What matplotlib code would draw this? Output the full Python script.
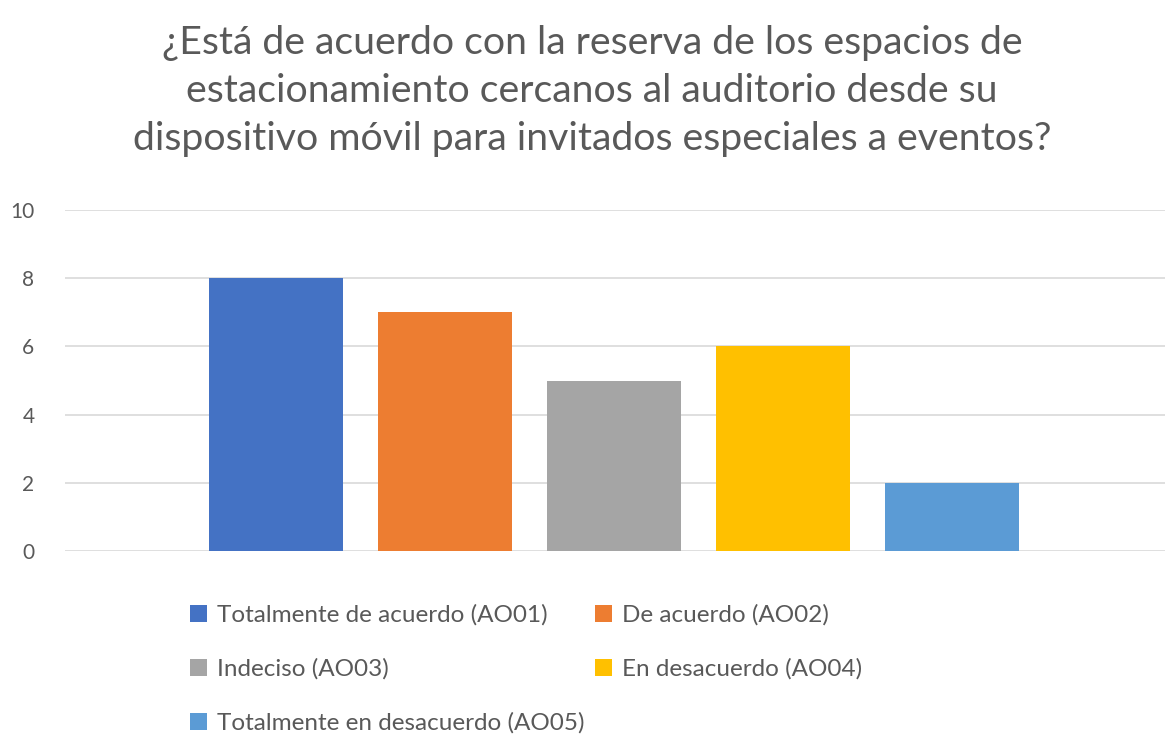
import matplotlib.pyplot as plt
from matplotlib.patches import Patch

plt.rcParams['font.family'] = ['Lato', 'DejaVu Sans']

# datos
categorias = ['Totalmente de acuerdo (AO01)', 'De acuerdo (AO02)', 'Indeciso (AO03)',
              'En desacuerdo (AO04)', 'Totalmente en desacuerdo (AO05)']
valores = [8, 7, 5, 6, 2]
colores = ['#4472C4', '#ED7D31', '#A5A5A5', '#FFC000', '#5B9BD5']
titulo = ('¿Está de acuerdo con la reserva de los espacios de\n'
          'estacionamiento cercanos al auditorio desde su\n'
          'dispositivo móvil para invitados especiales a eventos?')

gris = '#595959'

fig = plt.figure(figsize=(11.65, 7.38), dpi=100)
ax = fig.add_axes([0.0558, 0.2534, 0.9442, 0.462])

x = list(range(len(valores)))
ax.bar(x, valores, width=0.79, color=colores, zorder=3)

ax.set_xlim(-1.25, 5.26)
ax.set_ylim(0, 10)
ax.set_yticks([0, 2, 4, 6, 8, 10])
ax.set_xticks([])
ax.grid(axis='y', color='#D9D9D9', linewidth=1.2, zorder=0)
for s in ax.spines.values():
    s.set_visible(False)
ax.tick_params(axis='y', length=0, pad=22, labelsize=15, labelcolor=gris)

fig.text(0.508, 0.877, titulo, ha='center', va='center', fontsize=28.3,
         color=gris, linespacing=1.42)

# leyenda por filas: reordenar para que se llene por columnas
orden = [0, 2, 4, 1, 3]
handles = [Patch(facecolor=colores[i]) for i in orden]
labels = [categorias[i] for i in orden]
leg = fig.legend(handles, labels, ncol=2, loc='upper left',
                 bbox_to_anchor=(0.163, 0.181), frameon=False,
                 fontsize=17.5, handlelength=0.7, handleheight=0.7,
                 handletextpad=0.4, labelspacing=1.33, columnspacing=0.45,
                 borderaxespad=0, borderpad=0)
for t in leg.get_texts():
    t.set_color(gris)

fig.savefig('out.png', dpi=100)
